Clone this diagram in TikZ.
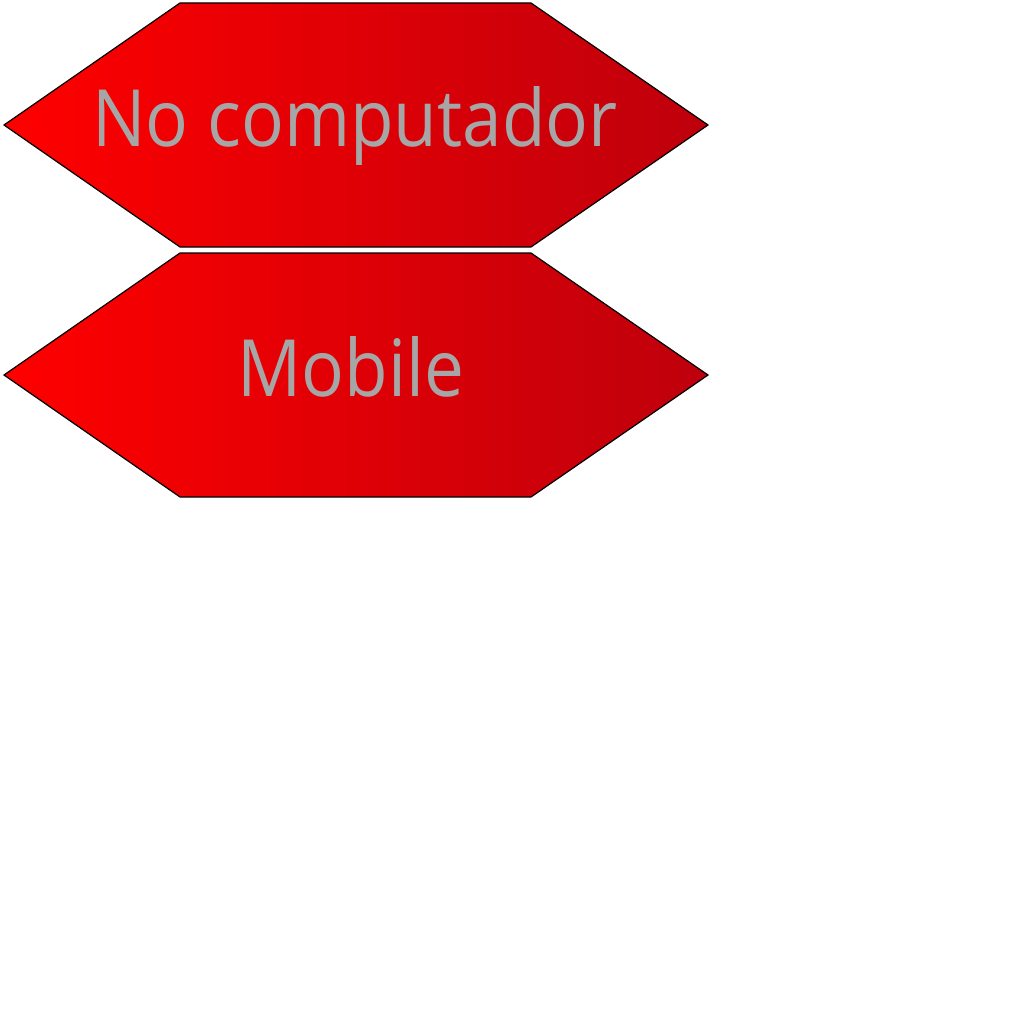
\documentclass[tikz,border=0pt]{standalone}
\usepackage{fontspec}
\usepackage{graphicx}
\setmainfont{Open Sans}
\definecolor{redL}{RGB}{255,0,0}
\definecolor{redR}{RGB}{190,0,12}
\definecolor{txtgray}{RGB}{166,166,166}
\newcommand{\narrowtext}[1]{\scalebox{0.9}[1]{#1}}
\tikzset{
  hexshape/.style={draw=black, line width=1.2pt, left color=redL, right color=redR, shading angle=90},
  hexlabel/.style={text=txtgray, font=\fontsize{79}{79}\selectfont, anchor=base, inner sep=0pt}
}
\begin{document}
\begin{tikzpicture}[x=1pt,y=-1pt]
\useasboundingbox (0,0) rectangle (1024,1024);
\fill[white] (0,0) rectangle (1024,1024);
\shade[hexshape] (4,125) -- (180,3) -- (531,3) -- (708,125) -- (531,247) -- (180,247) -- cycle;
\shade[hexshape] (4,375) -- (180,253) -- (531,253) -- (708,375) -- (531,497) -- (180,497) -- cycle;
\node[hexlabel] (t1) at (355,147) {\narrowtext{No computador}};
\node[hexlabel] (t2) at (351,396) {\narrowtext{Mobile}};
\end{tikzpicture}
\end{document}
